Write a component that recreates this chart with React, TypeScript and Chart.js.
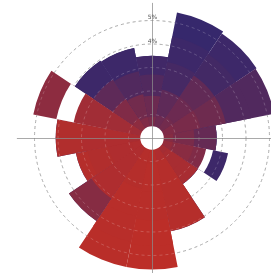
import React, { useEffect, useRef } from "react";
import { Chart, registerables } from "chart.js";

Chart.register(...registerables);

// Directions (clockwise from north)
const directions = ["N", "NNE", "NE", "ENE", "E", "ESE", "SE", "SSE", "S", "SSW", "SW", "WSW", "W", "WNW", "NW", "NNW"];

// Stacked bin values per direction (inner -> outer)
const bin1 = [0.9, 1.0, 1.1, 1.0, 0.9, 0.9, 0.8, 1.0, 1.1, 1.1, 1.0, 0.9, 1.0, 0.9, 1.0, 0.9];
const bin2 = [0.9, 1.1, 1.0, 1.1, 0.9, 0.9, 0.8, 1.0, 1.2, 1.1, 1.0, 1.0, 1.0, 1.0, 1.0, 1.0];
const bin3 = [0.9, 1.2, 1.1, 1.1, 0.95, 0.55, 0.75, 1.0, 1.2, 1.2, 1.1, 0.9, 1.0, 1.5, 1.0, 1.0];
const bin4 = [0.8, 1.1, 1.1, 1.1, 0, 0.3, 0, 1.05, 1.1, 1.1, 1.15, 0.5, 1.1, 0.75, 0.95, 1.0];
const bin5 = [0, 1.05, 1.05, 1.0, 0, 0.65, 0, 0, 1.0, 1.1, 0, 0, 0, 1.0, 0, 0];

// Colour position (0 = blue, 1 = red) per bin and direction; -1 = empty cell
const tone1 = [0.5, 0.4, 0.45, 0.55, 0.6, 0.7, 0.82, 0.9, 0.95, 0.95, 0.9, 0.9, 0.85, 0.78, 0.65, 0.55];
const tone2 = [0.4, 0.3, 0.4, 0.5, 0.5, 0.62, 0.85, 0.95, 0.97, 0.95, 0.9, 0.9, 0.9, 0.8, 0.55, 0.45];
const tone3 = [0.2, 0.12, 0.32, 0.42, 0.35, 0.55, 0.85, 0.95, 0.97, 0.97, 0.9, 0.92, 0.9, 0.8, 0.3, 0.2];
const tone4 = [0.08, 0.05, 0.1, 0.2, 0, -1, 0, 0.95, 1, 0.97, 0.6, 0.95, 0.92, -1, 0.05, 0.05];
const tone5 = [0, 0.0, 0.05, 0.2, 0, 0.05, 0, 0, 1, 0.98, 0, 0, 0, 0.65, 0, 0];

const gridValues = [1, 2, 3, 4, 5];
const axisTickValues = [4, 5];
const axisTickLabels = ["4%", "5%"];
const scaleMax = 6;
const axisExtent = 5.75;
const centerHole = 0.5;

const BLUE = [54, 40, 108];
const RED = [188, 46, 40];

function toneColor(t: number): string {
  if (t < 0) return "#ffffff";
  const c = BLUE.map((b, i) => Math.round(b + (RED[i] - b) * t));
  return `rgb(${c[0]},${c[1]},${c[2]})`;
}

function drawCircles(chart: any, color: string) {
  const s = chart.scales.r;
  const ctx = chart.ctx as CanvasRenderingContext2D;
  ctx.save();
  ctx.setLineDash([3, 3]);
  ctx.lineWidth = 1;
  ctx.strokeStyle = color;
  gridValues.forEach((v) => {
    const r = s.getDistanceFromCenterForValue(v);
    ctx.beginPath();
    ctx.arc(s.xCenter, s.yCenter, r, 0, Math.PI * 2);
    ctx.stroke();
  });
  ctx.restore();
}

const decorPlugin = {
  id: "decor",
  beforeDatasetsDraw(chart: any) {
    drawCircles(chart, "rgba(140,140,140,0.85)");
  },
  afterDatasetsDraw(chart: any) {
    drawCircles(chart, "rgba(255,255,255,0.2)");
    const s = chart.scales.r;
    const ctx = chart.ctx as CanvasRenderingContext2D;
    const cx = s.xCenter;
    const cy = s.yCenter;
    ctx.save();
    // center hole
    const rc = s.getDistanceFromCenterForValue(centerHole);
    ctx.fillStyle = "#ffffff";
    ctx.beginPath();
    ctx.arc(cx, cy, rc, 0, Math.PI * 2);
    ctx.fill();
    // crosshair
    const L = s.getDistanceFromCenterForValue(axisExtent);
    ctx.strokeStyle = "rgba(140,140,140,0.75)";
    ctx.lineWidth = 1;
    ctx.beginPath();
    ctx.moveTo(cx - L, cy + 0.5);
    ctx.lineTo(cx + L, cy + 0.5);
    ctx.moveTo(cx + 0.5, cy - L);
    ctx.lineTo(cx + 0.5, cy + L);
    ctx.stroke();
    // axis tick labels
    ctx.font = "6px 'DejaVu Sans'";
    ctx.fillStyle = "#555";
    ctx.textAlign = "center";
    ctx.textBaseline = "middle";
    axisTickValues.forEach((v, i) => {
      const r = s.getDistanceFromCenterForValue(v);
      ctx.fillText(axisTickLabels[i], cx + 0.5, cy - r - 3);
    });
    ctx.restore();
  },
};

export default function App() {
  const ref = useRef<HTMLCanvasElement | null>(null);
  useEffect(() => {
    if (!ref.current) return;
    const bins = [bin1, bin2, bin3, bin4, bin5];
    const tones = [tone1, tone2, tone3, tone4, tone5];
    const cum: number[][] = [];
    bins.forEach((b, k) => {
      cum.push(b.map((v, i) => (k === 0 ? 0 : cum[k - 1][i]) + v));
    });
    const chart = new Chart(ref.current, {
      type: "polarArea",
      data: {
        labels: directions,
        datasets: cum.map((d, k) => ({
          label: `bin ${k + 1}`,
          data: d,
          backgroundColor: tones[k].map(toneColor),
          borderWidth: 0,
        })),
      },
      options: {
        responsive: false,
        animation: false,
        layout: { padding: 0 },
        plugins: { legend: { display: false }, tooltip: { enabled: false } },
        scales: {
          r: {
            display: false,
            min: 0,
            max: scaleMax,
            startAngle: -11.25,
          },
        },
      },
      plugins: [decorPlugin],
    } as any);
    return () => chart.destroy();
  }, []);
  return (
    <div style={{ position: "fixed", left: 0, top: 0, width: 271, height: 273, overflow: "hidden", background: "#fff" }}>
      <div style={{ position: "absolute", left: 11, top: -3, width: 282, height: 282 }}>
        <canvas ref={ref} width={282} height={282} style={{ display: "block" }} />
      </div>
    </div>
  );
}
